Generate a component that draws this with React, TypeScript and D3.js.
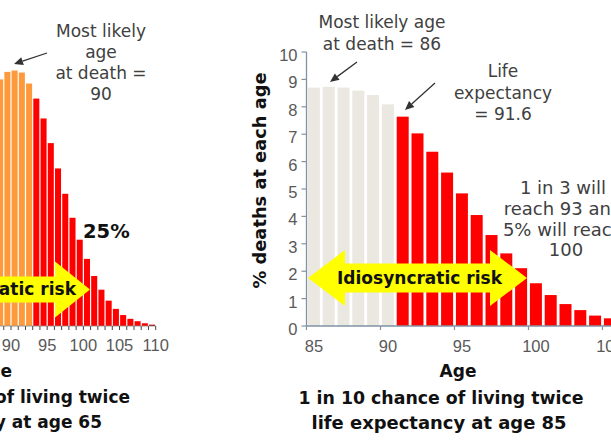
import React from "react";
import * as d3 from "d3";

// ---------- data ----------
// Left chart (age 65 cohort): % deaths at each age (visible part only)
const leftAges = [88, 89, 90, 91, 92, 93, 94, 95, 96, 97, 98, 99, 100, 101, 102, 103, 104, 105, 106, 107, 108, 109];
const leftValues = [3.6, 3.71, 3.73, 3.7, 3.54, 3.32, 3.03, 2.67, 2.3, 1.93, 1.58, 1.26, 0.98, 0.73, 0.53, 0.37, 0.25, 0.16, 0.105, 0.07, 0.04, 0.02];
const leftOrangeMaxAge = 92;
const leftTickLabels = [90, 95, 100, 105, 110];

// Right chart (age 85 cohort)
const rightAges = [85, 86, 87, 88, 89, 90, 91, 92, 93, 94, 95, 96, 97, 98, 99, 100, 101, 102, 103, 104, 105];
const rightValues = [8.7, 8.73, 8.7, 8.59, 8.43, 8.09, 7.64, 7.03, 6.36, 5.6, 4.84, 4.05, 3.32, 2.65, 2.11, 1.56, 1.13, 0.8, 0.58, 0.38, 0.28];
const rightBeigeMaxAge = 90;
const rightXTicks = [85, 90, 95, 100, 105];
const rightYTicks = [0, 1, 2, 3, 4, 5, 6, 7, 8, 9, 10];

// ---------- style ----------
const W = 611;
const H = 444;
const FONT = "'DejaVu Sans', sans-serif";
const NUMFONT = "'Liberation Sans', Arial, sans-serif";
const ORANGE = "#ff9a3c";
const RED = "#ff0000";
const BEIGE = "#eae8e1";
const YELLOW = "#ffff00";
const ANN = "#404040";
const TICK = "#595959";
const AXIS = "#7f93a3";

function arrowPath(x1: number, x2: number, cy: number, headLen: number, headHalf: number, shaftHalf: number, leftHead: boolean) {
  const p: [number, number][] = [];
  if (leftHead) {
    p.push([x1, cy], [x1 + headLen, cy - headHalf], [x1 + headLen, cy - shaftHalf]);
  } else {
    p.push([x1, cy - shaftHalf]);
  }
  p.push([x2 - headLen, cy - shaftHalf], [x2 - headLen, cy - headHalf], [x2, cy], [x2 - headLen, cy + headHalf], [x2 - headLen, cy + shaftHalf]);
  if (leftHead) {
    p.push([x1 + headLen, cy + shaftHalf], [x1 + headLen, cy + headHalf]);
  } else {
    p.push([x1, cy + shaftHalf]);
  }
  return "M" + p.map((q) => q.join(",")).join("L") + "Z";
}

function Pointer({ x1, y1, x2, y2 }: { x1: number; y1: number; x2: number; y2: number }) {
  const a = Math.atan2(y2 - y1, x2 - x1);
  const L = 9, w = 4;
  const bx = x2 - L * Math.cos(a), by = y2 - L * Math.sin(a);
  const px = -Math.sin(a) * w, py = Math.cos(a) * w;
  return (
    <g>
      <line x1={x1} y1={y1} x2={bx} y2={by} stroke="#333" strokeWidth={1.3} />
      <polygon points={`${x2},${y2} ${bx + px},${by + py} ${bx - px},${by - py}`} fill="#333" />
    </g>
  );
}

export default function App() {
  // Left chart scales
  const xL = d3.scaleLinear().domain([90, 110]).range([11, 155.7]);
  const yL = d3.scaleLinear().domain([0, 4]).range([326, 52]);
  // Right chart scales
  const step = 14.8;
  const xR = d3
    .scaleBand<number>()
    .domain(rightAges)
    .range([306.5, 306.5 + rightAges.length * step])
    .paddingInner(0.19)
    .paddingOuter(0.095);
  const yR = d3.scaleLinear().domain([0, 10]).range([326, 52]);
  const rStep = xR.step();
  const rBoundary = (a: number) => (xR(a) as number) - (xR.paddingInner() * rStep) / 2;

  const leftTicksMinor = d3.range(88, 111);

  return (
    <svg width={W} height={H} style={{ position: "absolute", left: 0, top: 0, background: "#fff" }} fontFamily={FONT}>
      <rect x={0} y={0} width={W} height={H} fill="#fff" />

      {/* ---------------- LEFT CHART ---------------- */}
      {leftAges.map((a, i) => (
        <rect
          key={"lb" + a}
          x={xL(a) + 0.6}
          width={xL(a + 1) - xL(a) - 1.2}
          y={yL(leftValues[i])}
          height={yL(0) - yL(leftValues[i])}
          fill={a <= leftOrangeMaxAge ? ORANGE : a === 109 ? "#c00000" : RED}
        />
      ))}
      <line x1={0} x2={xL(110)} y1={yL(0)} y2={yL(0)} stroke="#888" strokeWidth={0.8} />
      {leftTicksMinor.map((a) => (
        <line key={"lt" + a} x1={xL(a)} x2={xL(a)} y1={yL(0)} y2={yL(0) + 4} stroke="#444" strokeWidth={1} />
      ))}
      {leftTickLabels.map((a) => (
        <text key={"ltl" + a} x={xL(a)} y={351} textAnchor="middle" fontFamily={NUMFONT} fontSize={16.5} fill={TICK}>
          {a}
        </text>
      ))}
      <text x={12} y={376.5} textAnchor="end" fontSize={17} fontWeight="bold" fill="#111">Age</text>
      <text x={130} y={403} textAnchor="end" fontSize={17} fontWeight="bold" fill="#111">1 in 10 chance of living twice</text>
      <text x={102} y={428} textAnchor="end" fontSize={17} fontWeight="bold" fill="#111">life expectancy at age 65</text>

      <g fontSize={17} fill={ANN} textAnchor="middle">
        <text x={101} y={36.7}>Most likely</text>
        <text x={101} y={57.5}>age</text>
        <text x={101} y={78.5}>at death =</text>
        <text x={101} y={100}>90</text>
      </g>
      <Pointer x1={47} y1={53} x2={14} y2={64} />

      <text x={83} y={237.5} fontSize={19.5} fontWeight="bold" fill="#111">25%</text>

      <path d={arrowPath(-250, 90, 289.5, 35, 28, 13, false)} fill={YELLOW} />
      <text x={76} y={295} textAnchor="end" fontSize={17} fontWeight="bold" fill="#111" textLength={165} lengthAdjust="spacingAndGlyphs">
        Idiosyncratic risk
      </text>

      {/* ---------------- RIGHT CHART ---------------- */}
      {rightAges.map((a, i) => (
        <rect
          key={"rb" + a}
          x={xR(a)}
          width={xR.bandwidth()}
          y={yR(rightValues[i])}
          height={yR(0) - yR(rightValues[i])}
          fill={a <= rightBeigeMaxAge ? BEIGE : RED}
        />
      ))}

      {/* axes */}
      <line x1={306.5} x2={W + 20} y1={yR(0)} y2={yR(0)} stroke={AXIS} strokeWidth={1.3} />
      <line x1={306.5} x2={306.5} y1={yR(0)} y2={yR(10)} stroke={AXIS} strokeWidth={1.3} />
      {rightYTicks.map((v) => (
        <g key={"ry" + v}>
          <line x1={301.5} x2={306.5} y1={yR(v)} y2={yR(v)} stroke={AXIS} strokeWidth={1.2} />
          <text x={297.5} y={yR(v) + 9} textAnchor="end" fontFamily={NUMFONT} fontSize={16.5} fill={TICK}>
            {v}
          </text>
        </g>
      ))}
      {rightXTicks.map((a) => (
        <g key={"rx" + a}>
          <line x1={rBoundary(a)} x2={rBoundary(a)} y1={yR(0)} y2={yR(0) + 4} stroke={AXIS} strokeWidth={1.2} />
          <text x={(xR(a) as number) + xR.bandwidth() / 2} y={351.5} textAnchor="middle" fontFamily={NUMFONT} fontSize={16.5} fill={TICK}>
            {a}
          </text>
        </g>
      ))}

      <text
        transform="translate(266,180.5) rotate(-90)"
        textAnchor="middle"
        fontSize={18}
        fontWeight="bold"
        fill="#111"
        textLength={216}
        lengthAdjust="spacingAndGlyphs"
      >
        % deaths at each age
      </text>
      <text x={458} y={376.5} textAnchor="middle" fontSize={17} fontWeight="bold" fill="#111">Age</text>
      <text x={441} y={404} textAnchor="middle" fontSize={17} fontWeight="bold" fill="#111" textLength={285} lengthAdjust="spacingAndGlyphs">
        1 in 10 chance of living twice
      </text>
      <text x={439} y={428.5} textAnchor="middle" fontSize={17} fontWeight="bold" fill="#111" textLength={255} lengthAdjust="spacingAndGlyphs">
        life expectancy at age 85
      </text>

      {/* annotations */}
      <g fontSize={17} fill={ANN} textAnchor="middle">
        <text x={382} y={28}>Most likely age</text>
        <text x={382} y={49.5}>at death = 86</text>
        <text x={503} y={77}>Life</text>
        <text x={503} y={98.5}>expectancy</text>
        <text x={503} y={119.5}>= 91.6</text>
      </g>
      <g fontSize={18} fill={ANN} textAnchor="middle">
        <text x={563} y={194}>1 in 3 will</text>
        <text x={563} y={215}>reach 93 and</text>
        <text x={563} y={235.5}>5% will reach</text>
        <text x={566} y={256}>100</text>
      </g>
      <Pointer x1={357} y1={62} x2={330} y2={82} />
      <Pointer x1={435} y1={83} x2={405} y2={110} />

      <path d={arrowPath(308, 527, 278, 37, 28, 14.5, true)} fill={YELLOW} />
      <text x={337} y={284} fontSize={17} fontWeight="bold" fill="#111" textLength={165} lengthAdjust="spacingAndGlyphs">
        Idiosyncratic risk
      </text>
    </svg>
  );
}
